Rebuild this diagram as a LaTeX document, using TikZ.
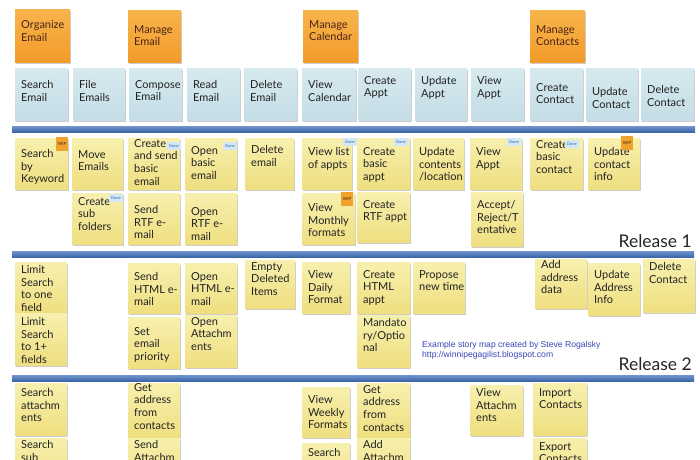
\documentclass[tikz,border=0pt]{standalone}
\usepackage{fontspec}
\setmainfont{Lato}
\newfontfamily\credfont{Liberation Sans}
\usetikzlibrary{shadows}
\definecolor{yTop}{HTML}{F7F0AE}
\definecolor{yBot}{HTML}{EFDF80}
\definecolor{bTop}{HTML}{D6E9EF}
\definecolor{bBot}{HTML}{C5DDE6}
\definecolor{oTop}{HTML}{F8B44C}
\definecolor{oBot}{HTML}{F29B29}
\definecolor{barC}{HTML}{4B79BE}
\definecolor{barD}{HTML}{3A64A6}
\definecolor{txtC}{HTML}{222222}
\definecolor{oTxt}{HTML}{4A2418}
\definecolor{doneBg}{HTML}{D3E8F6}
\definecolor{doneTx}{HTML}{2D63B8}
\definecolor{wipBg}{HTML}{F0A22E}
\definecolor{credC}{HTML}{3B45B5}
\tikzset{
  notebase/.style={rectangle, inner sep=0pt, anchor=north west,
    drop shadow={shadow xshift=0.8pt, shadow yshift=-1.4pt, opacity=0.28, fill=black!70}},
  ynote/.style={notebase, top color=yTop, bottom color=yBot},
  bnote/.style={notebase, top color=bTop, bottom color=bBot},
  onote/.style={notebase, top color=oTop, bottom color=oBot},
  ynotetext/.style={anchor=north west, inner sep=0pt, align=left, text=txtC,
    font=\fontsize{11}{12.8}\selectfont},
  bnotetext/.style={ynotetext},
  onotetext/.style={ynotetext, text=oTxt},
  donetag/.style={rectangle, fill=doneBg, inner sep=0pt, minimum width=14pt, minimum height=8pt,
    text=doneTx, font=\fontsize{4}{4}\selectfont},
  wiptag/.style={rectangle, fill=wipBg, inner sep=0pt, minimum width=12pt, minimum height=14pt,
    text=oTxt, font=\fontsize{4.2}{4.2}\selectfont, text depth=0pt},
  barline/.style={rectangle, inner sep=0pt, anchor=north west, top color=barC!80, bottom color=barD},
  reltext/.style={anchor=base east, inner sep=0pt, text=black!85, font=\fontsize{17.5}{20}\selectfont},
  credtext/.style={anchor=north west, inner sep=0pt, align=left, text=credC,
    font=\credfont\fontsize{8.6}{10.2}\selectfont}
}
% style, name, x1, y1, x2, y2, text top y, text
\newcommand\stickynote[8]{%
  \node[#1, minimum width={(#5-#3)*1pt}, minimum height={(#6-#4)*1pt}] (#2) at (#3,#4) {};
  \node[#1text] (#2t) at (#3+6,#7) {#8};}
\begin{document}
\begin{tikzpicture}[x=1pt,y=-1pt]
\useasboundingbox (0,0) rectangle (700,459);
\fill[white] (0,0) rectangle (700,459);
\clip (0,0) rectangle (700,459);

% activities
\stickynote{onote}{o1}{15}{9}{70}{62}{20}{Organize\\Email}
\stickynote{onote}{o2}{128}{10}{181}{62}{25}{Manage\\Email}
\stickynote{onote}{o3}{303}{10}{358}{62}{20}{Manage\\Calendar}
\stickynote{onote}{o4}{530}{10}{585}{62}{25}{Manage\\Contacts}

% tasks
\stickynote{bnote}{b1}{15}{68}{68}{120}{80}{Search\\Email}
\stickynote{bnote}{b2}{73}{68}{125}{120}{80}{File\\Emails}
\stickynote{bnote}{b3}{129}{68}{182}{120}{80}{Compose\\Email}
\stickynote{bnote}{b4}{187}{68}{240}{120}{80}{Read\\Email}
\stickynote{bnote}{b5}{244}{68}{297}{120}{80}{Delete\\Email}
\stickynote{bnote}{b6}{302}{68}{356}{120}{80}{View\\Calendar}
\stickynote{bnote}{b7}{358}{68}{411}{120}{76}{Create\\Appt}
\stickynote{bnote}{b8}{415}{68}{467}{120}{76}{Update\\Appt}
\stickynote{bnote}{b9}{471}{68}{524}{120}{76}{View\\Appt}
\stickynote{bnote}{b10}{530}{68}{583}{120}{83}{Create\\Contact}
\stickynote{bnote}{b11}{586}{68}{638}{120}{87}{Update\\Contact}
\stickynote{bnote}{b12}{641}{68}{694}{120}{85}{Delete\\Contact}

% release bars
\node[barline, minimum width=683pt, minimum height=6pt] (bar1) at (12,126) {};
\node[barline, minimum width=682pt, minimum height=6pt] (bar2) at (12,251) {};
\node[barline, minimum width=682pt, minimum height=6pt] (bar3) at (12,375) {};

% release 1
\stickynote{ynote}{y1}{15}{138}{68}{189}{149}{Search\\by\\Keyword}
\stickynote{ynote}{y2}{72}{138}{123}{189}{150}{Move\\Emails}
\stickynote{ynote}{y3}{128}{138}{180}{189}{139}{Create\\and send\\basic\\email}
\stickynote{ynote}{y4}{185}{138}{237}{189}{146}{Open\\basic\\email}
\stickynote{ynote}{y5}{245}{138}{294}{189}{145}{Delete\\email}
\stickynote{ynote}{y6}{302}{138}{352}{189}{147}{View list\\of appts}
\stickynote{ynote}{y7}{357}{138}{410}{189}{147}{Create\\basic\\appt}
\stickynote{ynote}{y8}{413}{138}{464}{189}{147}{Update\\contents\\/location}
\stickynote{ynote}{y9}{470}{138}{522}{189}{147}{View\\Appt}
\stickynote{ynote}{y10}{530}{138}{583}{189}{140}{Create\\basic\\contact}
\stickynote{ynote}{y11}{588}{138}{640}{189}{147}{Update\\contact\\info}
\stickynote{ynote}{y12}{72}{193}{123}{244}{197}{Create\\sub\\folders}
\stickynote{ynote}{y13}{128}{193}{180}{244}{205}{Send\\RTF e-\\mail}
\stickynote{ynote}{y14}{185}{193}{237}{244}{207}{Open\\RTF e-\\mail}
\stickynote{ynote}{y15}{302}{193}{355}{244}{203}{View\\Monthly\\formats}
\stickynote{ynote}{y16}{357}{192}{410}{242}{200}{Create\\RTF appt}
\stickynote{ynote}{y17}{471}{192}{523}{246}{200}{Accept/\\Reject/T\\entative}

% status tags
\node[wiptag] (t1) at (62,144) {WIP};
\node[donetag] (t2) at (174,146) {Done};
\node[donetag] (t3) at (230,146) {Done};
\node[donetag] (t4) at (350,142) {Done};
\node[donetag] (t5) at (401,142) {Done};
\node[donetag] (t6) at (514,142) {Done};
\node[donetag] (t7) at (572,144) {Done};
\node[wiptag] (t8) at (627,143) {WIP};
\node[donetag] (t9) at (116,198) {Done};
\node[wiptag] (t10) at (347,199) {WIP};

\node[reltext] (r1) at (692,247) {Release 1};

% release 2
\stickynote{ynote}{z1}{15}{262}{67}{313}{265}{Limit\\Search\\to one\\field}
\stickynote{ynote}{z2}{15}{313}{67}{365}{317}{Limit\\Search\\to 1+\\fields}
\stickynote{ynote}{z3}{128}{263}{180}{313}{272}{Send\\HTML e-\\mail}
\stickynote{ynote}{z4}{185}{263}{237}{313}{272}{Open\\HTML e-\\mail}
\stickynote{ynote}{z5}{245}{260}{295}{308}{262}{Empty\\Deleted\\Items}
\stickynote{ynote}{z6}{302}{262}{350}{313}{270}{View\\Daily\\Format}
\stickynote{ynote}{z7}{357}{262}{410}{313}{270}{Create\\HTML\\appt}
\stickynote{ynote}{z8}{413}{262}{465}{313}{270}{Propose\\new time}
\stickynote{ynote}{z9}{535}{259}{587}{308}{260}{Add\\address\\data}
\stickynote{ynote}{z10}{588}{263}{640}{315}{270}{Update\\Address\\Info}
\stickynote{ynote}{z11}{643}{259}{695}{312}{262}{Delete\\Contact}
\stickynote{ynote}{z12}{128}{317}{180}{368}{327}{Set\\email\\priority}
\stickynote{ynote}{z13}{185}{315}{237}{367}{317}{Open\\Attachm\\ents}
\stickynote{ynote}{z14}{357}{315}{410}{367}{318}{Mandato\\ry/Optio\\nal}

\node[credtext] (cr) at (422,341) {Example story map created by Steve Rogalsky\\http://winnipegagilist.blogspot.com};
\node[reltext] (r2) at (692,370) {Release 2};

% release 3
\stickynote{ynote}{w1}{15}{383}{67}{435}{388}{Search\\attachm\\ents}
\stickynote{ynote}{w2}{128}{383}{180}{437}{383}{Get\\address\\from\\contacts}
\stickynote{ynote}{w3}{302}{387}{350}{437}{395}{View\\Weekly\\Formats}
\stickynote{ynote}{w4}{357}{383}{410}{437}{385}{Get\\address\\from\\contacts}
\stickynote{ynote}{w5}{470}{385}{523}{435}{388}{View\\Attachm\\ents}
\stickynote{ynote}{w6}{533}{383}{587}{435}{388}{Import\\Contacts}
\stickynote{ynote}{w7}{15}{438}{67}{490}{440}{Search\\sub}
\stickynote{ynote}{w8}{128}{438}{180}{490}{440}{Send\\Attachm}
\stickynote{ynote}{w9}{302}{443}{350}{495}{448}{Search}
\stickynote{ynote}{w10}{357}{438}{410}{490}{440}{Add\\Attachm}
\stickynote{ynote}{w11}{533}{438}{587}{490}{442}{Export\\Contacts}
\end{tikzpicture}
\end{document}
